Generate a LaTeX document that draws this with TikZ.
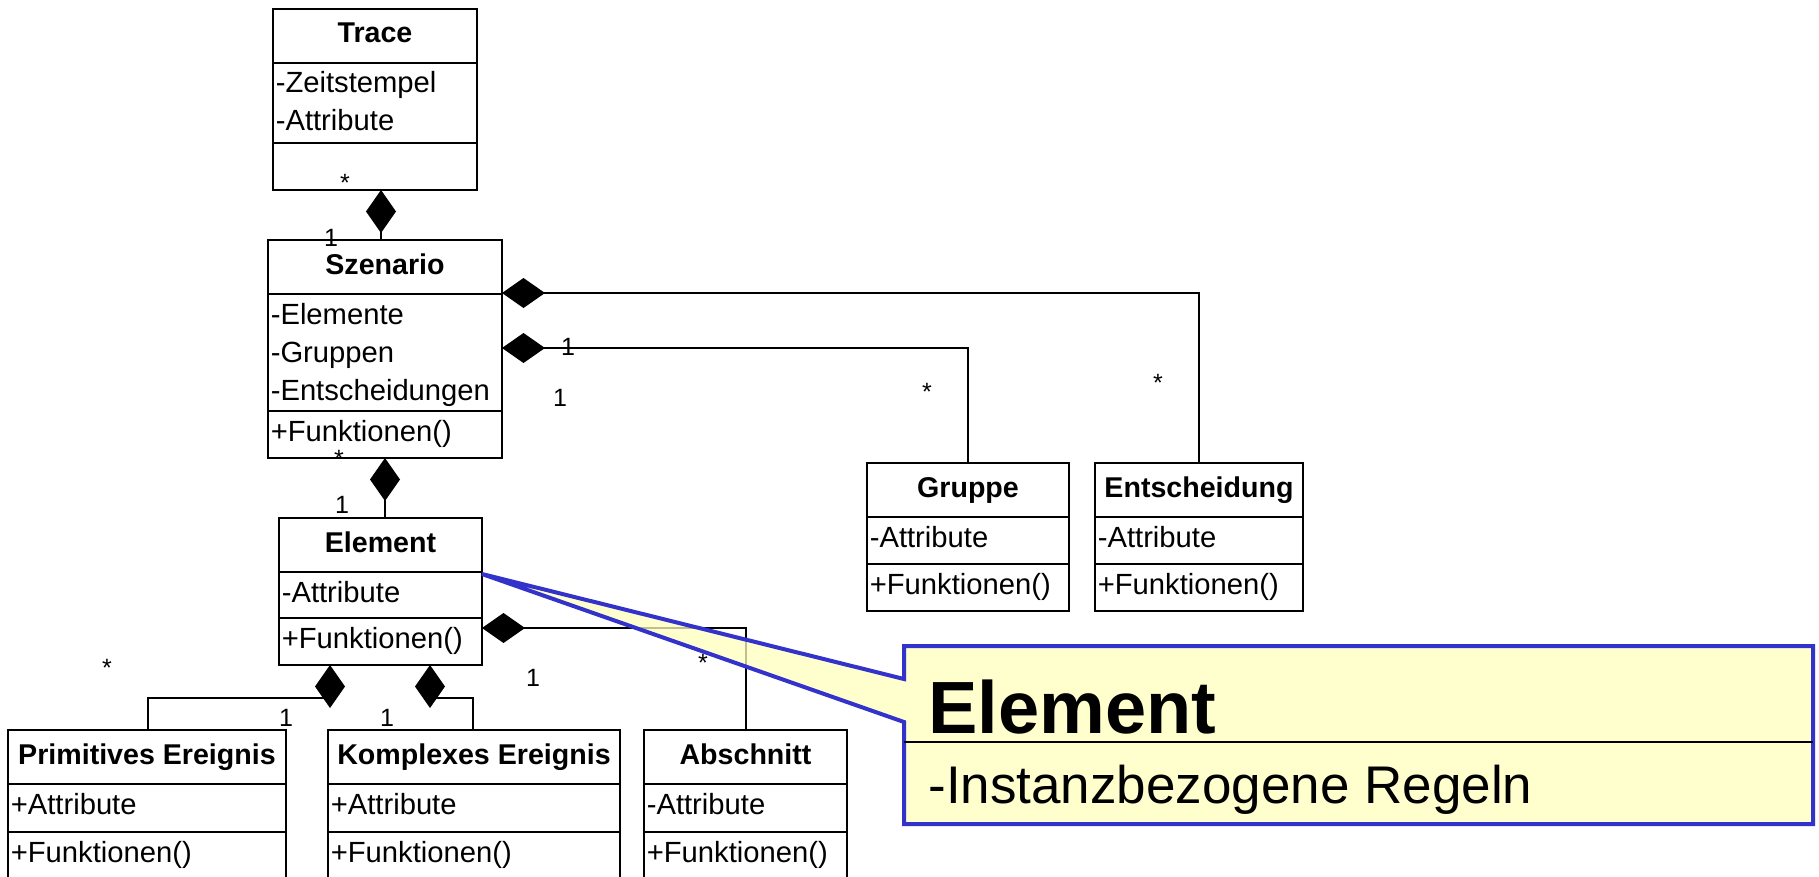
\documentclass[tikz,border=0pt]{standalone}
\usepackage{fontspec}
\setmainfont{Liberation Sans}
\usetikzlibrary{arrows.meta}

\definecolor{notefill}{RGB}{255,255,190}
\definecolor{noteline}{RGB}{51,51,204}

\tikzstyle{classbox} = [rectangle, draw, line width=1.4pt, fill=white, anchor=north west,
    inner sep=0pt, outer sep=0pt]
\tikzstyle{classline} = [line width=1.4pt]
\tikzstyle{classtitle} = [font=\fontsize{14.3}{17}\selectfont\bfseries, anchor=base, inner sep=0pt]
\tikzstyle{classtext} = [font=\fontsize{14.6}{17}\selectfont, anchor=base west, inner xsep=1.2pt, inner ysep=0pt]
\tikzstyle{mult} = [font=\fontsize{12.5}{15}\selectfont, inner sep=0pt]
\tikzstyle{owns} = [-{Diamond[length=21.5pt,width=15pt]}, line width=1pt]
\tikzstyle{note} = [draw=noteline, line width=2pt, fill=notefill, fill opacity=0.75, line join=miter]
\tikzstyle{notetitle} = [font=\fontsize{37}{40}\selectfont\bfseries, anchor=base west, inner sep=0pt]
\tikzstyle{notetext} = [font=\fontsize{26.5}{30}\selectfont, anchor=base west, inner sep=0pt]

% #1 name, #2 left, #3 top, #4 width, #5 attribute height, #6 title, #7 attributes, #8 operations
\newcommand{\umlclass}[8]{%
  \node[classbox, minimum width={#4*0.5pt}, minimum height={(101+#5)*0.5pt}] (#1) at (#2,#3) {};
  \draw[classline] ([yshift=-27pt]#1.north west) -- ([yshift=-27pt]#1.north east);
  \draw[classline] ([yshift={-(54+#5)*0.5pt}]#1.north west) -- ([yshift={-(54+#5)*0.5pt}]#1.north east);
  \node[classtitle] (#1-title) at ([yshift=-17pt]#1.north) {#6};
  \foreach \a [count=\i] in {#7}
    \node[classtext] (#1-attr-\i) at ([yshift={-42pt-(\i-1)*19pt}]#1.north west) {\a};
  \foreach \a [count=\i] in {#8}
    \node[classtext] (#1-op-\i) at ([yshift={-(54+#5)*0.5pt-15pt-(\i-1)*19pt}]#1.north west) {\a};
}

\begin{document}
\begin{tikzpicture}[x=0.5pt, y=-0.5pt]
  \useasboundingbox (0,0) rectangle (1819,877);

  \umlclass{trace}{273}{9}{204}{80}{Trace}{-Zeitstempel,-Attribute}{}
  \umlclass{szenario}{268}{240}{234}{117}{Szenario}{-Elemente,-Gruppen,-Entscheidungen}{+Funktionen()}
  \umlclass{element}{279}{518}{203}{46}{Element}{-Attribute}{+Funktionen()}
  \umlclass{gruppe}{867}{463}{202}{47}{Gruppe}{-Attribute}{+Funktionen()}
  \umlclass{entscheidung}{1095}{463}{208}{47}{Entscheidung}{-Attribute}{+Funktionen()}
  \umlclass{primitiv}{8}{730}{278}{48}{Primitives Ereignis}{+Attribute}{+Funktionen()}
  \umlclass{komplex}{328}{730}{292}{48}{Komplexes Ereignis}{+Attribute}{+Funktionen()}
  \umlclass{abschnitt}{644}{730}{203}{48}{Abschnitt}{-Attribute}{+Funktionen()}

  % compositions
  \draw[owns] (szenario.north -| 381,0) -- (trace.south -| 381,0);
  \draw[owns] (element.north -| 385,0) -- (szenario.south -| 385,0);
  \draw[owns] (entscheidung.north) |- (szenario.east |- 0,293);
  \draw[owns] (gruppe.north) |- (szenario.east |- 0,348);
  \draw[owns] (abschnitt.north) |- (element.east |- 0,628);
  \draw[owns] (primitiv.north -| 148,0) |- (330,698) -- (element.south -| 330,0);
  \draw[owns] (komplex.north -| 473,0) |- (430,698) -- (element.south -| 430,0);

  % multiplicities
  \node[mult] (m-trace)    at (345,183)  {*};
  \node[mult] (m-szen-1)   at (331,238)  {1};
  \node[mult] (m-szen-2)   at (339,459)  {*};
  \node[mult] (m-elem-1)   at (342,505)  {1};
  \node[mult] (m-gruppe-1) at (568,347)  {1};
  \node[mult] (m-gruppe-2) at (560,398)  {1};
  \node[mult] (m-gruppe-3) at (927,392)  {*};
  \node[mult] (m-entsch)   at (1158,383) {*};
  \node[mult] (m-prim-1)   at (107,668)  {*};
  \node[mult] (m-prim-2)   at (286,718)  {1};
  \node[mult] (m-kompl)    at (387,718)  {1};
  \node[mult] (m-absch-1)  at (533,678)  {1};
  \node[mult] (m-absch-2)  at (703,663)  {*};

  % note
  \coordinate (tip) at ([yshift=-28pt]element.north east);
  \filldraw[note] (904,646) -- (1813,646) -- (1813,824) -- (904,824) -- (904,722)
      -- (tip) -- (904,679) -- cycle;
  \draw[line width=1pt] (904,742) -- (1813,742);
  \node[notetitle] (note-title) at (928,733) {Element};
  \node[notetext]  (note-text)  at (928,803) {-Instanzbezogene Regeln};
\end{tikzpicture}
\end{document}
